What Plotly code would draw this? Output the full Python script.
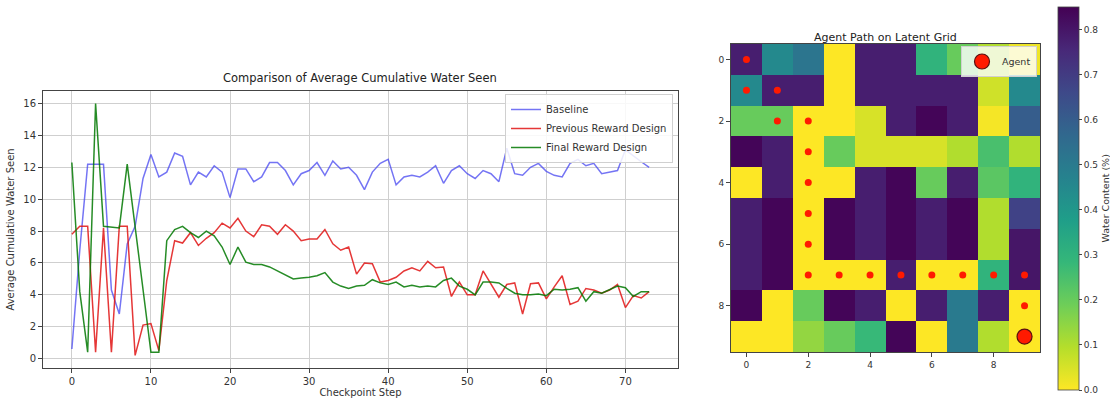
import plotly.graph_objects as go

steps = list(range(74))

baseline = [0.6, 6.8, 12.2, 12.2, 12.2, 4.3, 2.8, 7.2, 8.3, 11.3,
            12.8, 11.4, 11.7, 12.9, 12.7, 10.9, 11.7, 11.4, 12.1, 11.7,
            10.1, 11.9, 11.9, 11.1, 11.4, 12.3, 12.3, 11.8, 10.9, 11.6,
            11.8, 12.3, 11.5, 12.4, 11.9, 12.0, 11.5, 10.6, 11.7, 12.25,
            12.5, 10.9, 11.4, 11.5, 11.4, 11.7, 12.1, 11.0, 11.8, 12.1,
            11.6, 11.3, 11.8, 11.6, 11.1, 13.2, 11.6, 11.5, 12.0, 12.25,
            11.75, 11.5, 11.4, 12.25, 12.5, 12.1, 12.25, 11.6, 11.7, 11.8,
            13.1, 12.7, 12.35, 12.0]

previous = [7.8, 8.3, 8.3, 0.4, 8.2, 0.4, 8.3, 8.3, 0.2, 2.1,
            2.2, 0.5, 4.9, 7.4, 7.25, 7.9, 7.1, 7.55, 7.9, 8.5,
            8.2, 8.8, 8.0, 7.65, 8.4, 8.3, 7.8, 8.4, 8.0, 7.4,
            7.5, 7.5, 8.1, 7.2, 6.8, 7.0, 5.3, 6.0, 5.95, 4.8,
            4.9, 5.1, 5.5, 5.7, 5.5, 6.1, 5.7, 5.75, 3.9, 4.8,
            4.0, 4.0, 5.5, 4.7, 3.85, 4.65, 4.75, 2.8, 4.7, 4.75,
            3.75, 4.5, 5.2, 3.4, 3.6, 4.4, 4.3, 4.1, 4.3, 4.65,
            3.2, 3.95, 3.8, 4.2]

final = [12.3, 4.2, 0.4, 16.0, 8.3, 8.25, 8.2, 12.2, 8.3, 4.4,
         0.4, 0.4, 7.4, 8.1, 8.3, 7.9, 7.6, 8.0, 7.7, 7.0,
         5.9, 7.0, 6.05, 5.9, 5.9, 5.75, 5.5, 5.2, 5.0, 5.05,
         5.1, 5.2, 5.4, 4.8, 4.55, 4.4, 4.55, 4.6, 4.95, 4.75,
         4.65, 4.8, 4.5, 4.6, 4.5, 4.55, 4.5, 4.9, 5.05, 4.55,
         4.35, 4.0, 4.8, 4.8, 4.75, 4.4, 4.1, 4.0, 4.0, 4.05,
         3.95, 4.35, 4.3, 4.35, 4.45, 3.6, 4.2, 4.1, 4.3, 4.55,
         4.45, 3.9, 4.2, 4.2]

grid_values = [
    [0.78, 0.45, 0.52, 0.00, 0.78, 0.78, 0.30, 0.20, 0.10, 0.02],
    [0.45, 0.78, 0.78, 0.00, 0.78, 0.78, 0.78, 0.78, 0.06, 0.45],
    [0.20, 0.20, 0.00, 0.00, 0.05, 0.78, 0.84, 0.78, 0.01, 0.60],
    [0.84, 0.78, 0.00, 0.20, 0.05, 0.05, 0.05, 0.10, 0.25, 0.10],
    [0.00, 0.78, 0.00, 0.00, 0.78, 0.84, 0.20, 0.78, 0.22, 0.30],
    [0.78, 0.84, 0.00, 0.84, 0.78, 0.84, 0.78, 0.84, 0.10, 0.68],
    [0.78, 0.84, 0.00, 0.84, 0.78, 0.84, 0.78, 0.84, 0.10, 0.80],
    [0.78, 0.84, 0.00, 0.00, 0.00, 0.78, 0.00, 0.00, 0.30, 0.80],
    [0.84, 0.00, 0.20, 0.84, 0.78, 0.00, 0.78, 0.50, 0.78, 0.00],
    [0.00, 0.00, 0.14, 0.20, 0.28, 0.84, 0.00, 0.50, 0.10, 0.00],
]

path_rows = [0, 1, 1, 2, 2, 3, 4, 5, 6, 7, 7, 7, 7, 7, 7, 7, 7, 8]
path_cols = [0, 0, 1, 1, 2, 2, 2, 2, 2, 2, 3, 4, 5, 6, 7, 8, 9, 9]
agent_row = [9]
agent_col = [9]

colorbar_ticks = [0.0, 0.1, 0.2, 0.3, 0.4, 0.5, 0.6, 0.7, 0.8]

W, H = 1110, 398
FONT = "DejaVu Sans"
TXT = "#333333"

def px_x(p):
    return p / W

def px_y(p):
    return 1 - p / H

fig = go.Figure()

line_specs = [
    ("Baseline", baseline, "rgba(70,70,240,0.75)"),
    ("Previous Reward Design", previous, "rgba(225,20,20,0.85)"),
    ("Final Reward Design", final, "rgba(0,120,0,0.85)"),
]
for name, vals, col in line_specs:
    fig.add_trace(go.Scatter(x=steps, y=vals, mode="lines", name=name,
                             line=dict(color=col, width=1.5),
                             xaxis="x", yaxis="y", legend="legend"))

fig.add_trace(go.Heatmap(z=grid_values, x=list(range(10)), y=list(range(10)),
                         colorscale="Viridis", reversescale=True,
                         zmin=0, zmax=0.85, xaxis="x2", yaxis="y2",
                         showscale=True,
                         colorbar=dict(
                             x=px_x(1058), xanchor="left", xref="paper",
                             y=px_y(198.5), yanchor="middle",
                             len=383 / H, lenmode="fraction",
                             thickness=21, thicknessmode="pixels",
                             xpad=0, ypad=0,
                             outlinewidth=0.8, outlinecolor="#444",
                             tickvals=colorbar_ticks,
                             ticktext=[f"{v:.1f}" for v in colorbar_ticks],
                             ticks="outside", ticklen=3, tickcolor="#444",
                             tickfont=dict(family=FONT, size=9, color=TXT),
                         )))

fig.add_trace(go.Scatter(x=path_cols, y=path_rows, mode="markers",
                         marker=dict(color="#ff1a00", size=7),
                         showlegend=False, xaxis="x2", yaxis="y2"))
fig.add_trace(go.Scatter(x=agent_col, y=agent_row, mode="markers", name="Agent",
                         marker=dict(color="#ff1a00", size=15,
                                     line=dict(color="#5a1010", width=1.2)),
                         xaxis="x2", yaxis="y2", legend="legend2"))

axis_common = dict(showline=True, mirror=True, linecolor="#444", linewidth=1,
                   ticks="outside", ticklen=4, tickcolor="#444",
                   tickfont=dict(family=FONT, size=10, color=TXT), zeroline=False)
axis_small = dict(axis_common, tickfont=dict(family=FONT, size=9, color=TXT))

fig.update_layout(
    width=W, height=H,
    margin=dict(l=0, r=0, t=0, b=0, autoexpand=False),
    paper_bgcolor="white", plot_bgcolor="white",
    font=dict(family=FONT, size=10, color=TXT),
    xaxis=dict(domain=[px_x(43), px_x(678)], anchor="y",
               range=[-3.65, 76.65], tickvals=[0, 10, 20, 30, 40, 50, 60, 70],
               showgrid=True, gridcolor="#cfcfcf", gridwidth=1,
               title=dict(text="Checkpoint Step", standoff=4,
                          font=dict(family=FONT, size=10, color=TXT)),
               **axis_common),
    yaxis=dict(domain=[px_y(368), px_y(91)], anchor="x",
               range=[-0.59, 16.79], tickvals=[0, 2, 4, 6, 8, 10, 12, 14, 16],
               showgrid=True, gridcolor="#cfcfcf", gridwidth=1,
               title=dict(text="Average Cumulative Water Seen", standoff=6,
                          font=dict(family=FONT, size=10, color=TXT)),
               **axis_common),
    xaxis2=dict(domain=[px_x(731), px_x(1040)], anchor="y2",
                range=[-0.5, 9.5], tickvals=[0, 2, 4, 6, 8], showgrid=False,
                **axis_small),
    yaxis2=dict(domain=[px_y(352), px_y(44)], anchor="x2",
                range=[9.5, -0.5], tickvals=[0, 2, 4, 6, 8], showgrid=False,
                **axis_small),
    legend=dict(x=px_x(673), xanchor="right", y=px_y(94), yanchor="top",
                bgcolor="rgba(255,255,255,0.85)", bordercolor="#d0d0d0",
                borderwidth=1, font=dict(family=FONT, size=10, color=TXT),
                itemwidth=30, tracegroupgap=0),
    legend2=dict(x=px_x(1037), xanchor="right", y=px_y(46), yanchor="top",
                 bgcolor="rgba(255,255,255,0.8)", bordercolor="#d0d0d0",
                 borderwidth=1, font=dict(family=FONT, size=9.5, color=TXT),
                 itemwidth=30),
    annotations=[
        dict(text="Comparison of Average Cumulative Water Seen",
             x=px_x(360), y=px_y(78), xref="paper", yref="paper",
             xanchor="center", yanchor="middle", showarrow=False,
             font=dict(family=FONT, size=11.5, color="#222")),
        dict(text="Agent Path on Latent Grid",
             x=px_x(885), y=px_y(37), xref="paper", yref="paper",
             xanchor="center", yanchor="middle", showarrow=False,
             font=dict(family=FONT, size=11, color="#222")),
        dict(text="Water Content (%)", textangle=-90,
             x=px_x(1105), y=px_y(198.5), xref="paper", yref="paper",
             xanchor="center", yanchor="middle", showarrow=False,
             font=dict(family=FONT, size=9.5, color=TXT)),
    ],
)

fig.write_html("out.html", config={"displayModeBar": False},
               post_script="document.body.style.margin='0';"
                           "document.body.style.overflow='hidden';")
